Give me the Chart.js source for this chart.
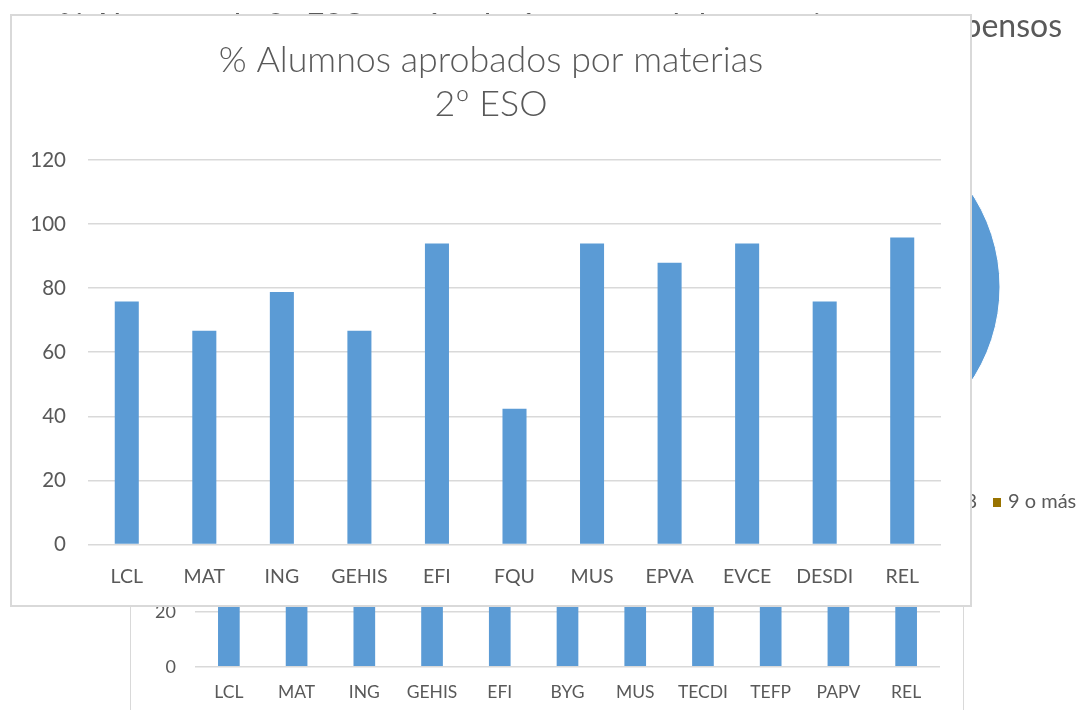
<!DOCTYPE html>
<html><head><meta charset="utf-8">
<script src="https://cdn.jsdelivr.net/npm/chart.js@4.4.1/dist/chart.umd.min.js"></script>
<style>
html,body{margin:0;padding:0;width:1083px;height:710px;overflow:hidden;background:#fff;}
#pieWrap{position:absolute;left:0;top:0;width:1083px;height:710px;}
#backWrap{position:absolute;left:130px;top:230px;width:834px;height:500px;box-sizing:border-box;border:1px solid #d9d9d9;background:#fff;}
#mainWrap{position:absolute;left:10px;top:14px;width:962px;height:593px;box-sizing:border-box;border:2px solid #d9d9d9;background:#fff;}
canvas{display:block;}
</style></head><body>
<div id="pieWrap"><canvas id="pie" width="1083" height="710" style="width:1083px;height:710px"></canvas></div>
<div id="backWrap"><canvas id="back" width="832" height="490" style="width:832px;height:490px"></canvas></div>
<div id="mainWrap"><canvas id="main" width="958" height="589" style="width:958px;height:589px"></canvas></div>
<script>
// ---- data ----
const categories = ['LCL','MAT','ING','GEHIS','EFI','FQU','MUS','EPVA','EVCE','DESDI','REL'];
const aprobados = [75.8,66.7,78.8,66.7,93.9,42.4,93.9,87.9,93.9,75.8,95.8];
const titleLines = ['% Alumnos aprobados por materias','2º ESO'];
const yMax = 120, yStep = 20;

const backCategories = ['LCL','MAT','ING','GEHIS','EFI','BYG','MUS','TECDI','TEFP','PAPV','REL'];
const backValues = [80,70,76,72,95,85,92,88,90,86,97];

const pieLabels = ['0','1','2','3','4','5','6','7','8','9 o más'];
const pieValues = [40,20,12,8,6,4,3,3,2,2];
const pieColors = ['#5B9BD5','#ED7D31','#A5A5A5','#FFC000','#4472C4','#70AD47','#255E91','#9E480E','#636363','#997300'];
const pieTitle = '% Alumnos de 2º ESO según el número total de materias con suspensos';

const FONT = 'Lato';
const TXT = '#595959';
const BAR = '#5B9BD5';
const GRID = '#d9d9d9';

// ---- background pie chart ----
const pieDecor = {
  id:'pieDecor',
  afterDraw(chart){
    const ctx = chart.ctx;
    ctx.save();
    ctx.fillStyle = TXT;
    ctx.font = '32px ' + FONT;
    ctx.textAlign = 'right';
    ctx.textBaseline = 'alphabetic';
    ctx.fillText(pieTitle, 1062, 37);
    // legend, laid out right to left
    ctx.font = '20px ' + FONT;
    ctx.textAlign = 'left';
    ctx.textBaseline = 'middle';
    let textX = 1008;
    for (let i = pieLabels.length - 1; i >= 0; i--) {
      const w = ctx.measureText(pieLabels[i]).width;
      if (i < pieLabels.length - 1) textX = textX - 15 - 16 - w;
      ctx.fillStyle = pieColors[i];
      ctx.fillRect(textX - 15, 498, 8, 9);
      ctx.fillStyle = TXT;
      ctx.fillText(pieLabels[i], textX, 502);
    }
    ctx.restore();
  }
};
new Chart(document.getElementById('pie'), {
  type:'pie',
  data:{labels:pieLabels, datasets:[{data:pieValues, backgroundColor:pieColors, borderColor:'#fff', borderWidth:1}]},
  options:{
    responsive:false, animation:false, radius:170,
    layout:{padding:{left:630, right:53, top:87, bottom:223}},
    plugins:{legend:{display:false}, tooltip:{enabled:false}, title:{display:false}}
  },
  plugins:[pieDecor]
});

// ---- background bar chart ----
new Chart(document.getElementById('back'), {
  type:'bar',
  data:{labels:backCategories, datasets:[{data:backValues, backgroundColor:BAR, barPercentage:0.32, categoryPercentage:1}]},
  options:{
    responsive:false, animation:false,
    layout:{padding:{left:0, right:23, top:105.7, bottom:0}},
    plugins:{legend:{display:false}, tooltip:{enabled:false}},
    scales:{
      x:{grid:{display:false}, border:{display:false},
         ticks:{color:TXT, font:{family:FONT, size:17.5}, padding:7.5, maxRotation:0, autoSkip:false},
         afterFit(s){ s.height = 54.3; }},
      y:{min:0, max:yMax, ticks:{stepSize:yStep, color:TXT, font:{family:FONT, size:18}, padding:19},
         grid:{color:GRID, lineWidth:1.5, drawTicks:false}, border:{display:false},
         afterFit(s){ s.width = 64; }}
    }
  }
});

// ---- main chart ----
new Chart(document.getElementById('main'), {
  type:'bar',
  data:{labels:categories, datasets:[{data:aprobados, backgroundColor:BAR, barPercentage:0.31, categoryPercentage:1}]},
  options:{
    responsive:false, animation:false,
    layout:{padding:{left:0, right:0, top:0, bottom:0}},
    plugins:{
      legend:{display:false}, tooltip:{enabled:false},
      title:{display:true, text:titleLines, color:TXT, font:{family:FONT, size:35.8, weight:'300', lineHeight:1.215}, padding:{top:23, bottom:34}}
    },
    scales:{
      x:{grid:{display:false}, border:{display:false},
         ticks:{color:TXT, font:{family:FONT, size:19.5}, padding:13, maxRotation:0, autoSkip:false},
         afterFit(s){ s.height = 60.5; }},
      y:{min:0, max:yMax, ticks:{stepSize:yStep, color:TXT, font:{family:FONT, size:20.5}, padding:22},
         grid:{color:GRID, lineWidth:1.5, drawTicks:false}, border:{display:false},
         afterFit(s){ s.width = 76; }},
      yRight:{position:'right', display:true, grid:{display:false, drawTicks:false}, ticks:{display:false}, border:{display:false},
         afterFit(s){ s.width = 29; }}
    }
  }
});
</script>
</body></html>
